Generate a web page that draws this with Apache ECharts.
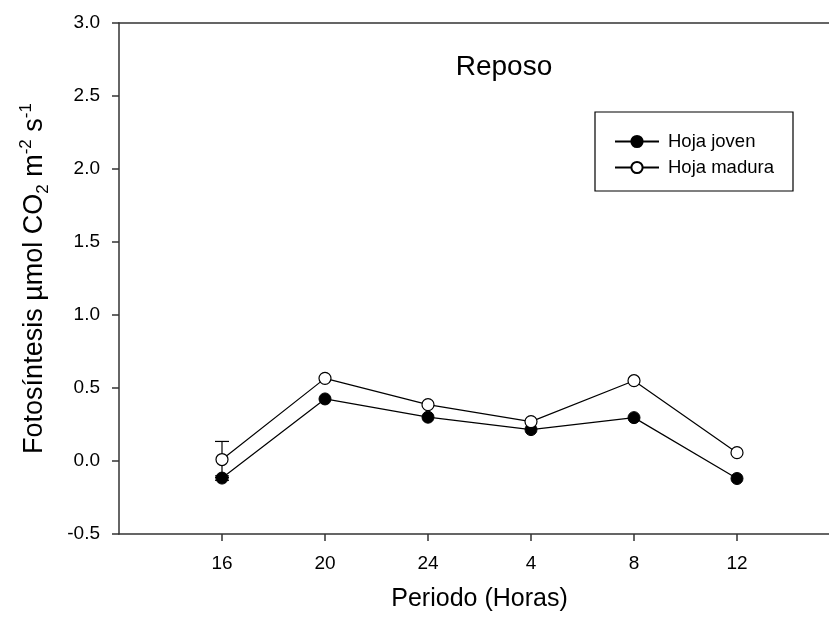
<!DOCTYPE html>
<html>
<head>
<meta charset="utf-8">
<script src="https://cdn.jsdelivr.net/npm/echarts@6/dist/echarts.min.js"></script>
<style>
  html, body { margin: 0; padding: 0; background: #fff; }
  #chart { width: 829px; height: 619px; }
</style>
</head>
<body>
<div id="chart"></div>
<script>
// data
const hours = ['16', '20', '24', '4', '8', '12'];
const hojaJoven = [-0.117, 0.425, 0.30, 0.215, 0.297, -0.12];
const hojaMadura = [0.01, 0.566, 0.386, 0.27, 0.55, 0.057];
const errJoven = [0.015, 0, 0, 0, 0, 0];
const errMadura = [0.124, 0, 0, 0, 0, 0];

const font = '"Liberation Sans", Arial, sans-serif';
// empty slots at both ends so the points sit one step in from the axes
const xCats = [''].concat(hours, ['']);

function pairs(vals) {
  return vals.map((v, i) => [i + 1, v]);
}
function errData(vals, errs) {
  const out = [];
  vals.forEach((v, i) => {
    if (errs[i] > 0) out.push([i + 1, v - errs[i], v + errs[i]]);
  });
  return out;
}

function renderErr(params, api) {
  const x = api.value(0);
  const lo = api.coord([x, api.value(1)]);
  const hi = api.coord([x, api.value(2)]);
  const w = 7;
  const st = { stroke: '#000', lineWidth: 1.2 };
  return {
    type: 'group',
    children: [
      { type: 'line', shape: { x1: hi[0], y1: hi[1], x2: lo[0], y2: lo[1] }, style: st },
      { type: 'line', shape: { x1: hi[0] - w, y1: hi[1], x2: hi[0] + w, y2: hi[1] }, style: st },
      { type: 'line', shape: { x1: lo[0] - w, y1: lo[1], x2: lo[0] + w, y2: lo[1] }, style: st }
    ]
  };
}

const chart = echarts.init(document.getElementById('chart'));
const option = {
  backgroundColor: '#fff',
  animation: false,
  title: {
    text: 'Reposo',
    left: 499,
    top: 48,
    textAlign: 'center',
    textStyle: { fontFamily: font, fontSize: 28, fontWeight: 'normal', color: '#000' }
  },
  grid: { left: 119, top: 23, right: -11, bottom: 85, outerBoundsMode: 'none' },
  legend: {
    orient: 'vertical',
    left: 609,
    top: 127,
    itemWidth: 44,
    itemHeight: 14,
    itemGap: 7,
    textStyle: { fontFamily: font, fontSize: 18.5, color: '#000', padding: [0, 0, 0, 4] },
    data: ['Hoja joven', 'Hoja madura']
  },
  graphic: [{
    type: 'rect',
    shape: { x: 595, y: 112, width: 198, height: 79 },
    style: { fill: 'none', stroke: '#000', lineWidth: 1.2 },
    z: 10
  }],
  xAxis: [{
    type: 'category',
    data: xCats,
    boundaryGap: false,
    name: 'Periodo (Horas)',
    nameLocation: 'middle',
    nameGap: 53,
    nameMoveOverlap: false,
    nameTextStyle: { fontFamily: font, fontSize: 25, color: '#000' },
    axisLine: { onZero: false, lineStyle: { color: '#333', width: 1.5 } },
    axisTick: {
      length: 7,
      inside: false,
      interval: (idx, val) => val !== '',
      lineStyle: { color: '#333', width: 1.5 }
    },
    axisLabel: {
      interval: 0,
      margin: 20,
      fontFamily: font,
      fontSize: 19,
      color: '#000'
    },
    splitLine: { show: false }
  }, {
    type: 'category',
    data: xCats,
    boundaryGap: false,
    position: 'top',
    axisLine: { onZero: false, lineStyle: { color: '#333', width: 1.5 } },
    axisTick: { show: false },
    axisLabel: { show: false },
    splitLine: { show: false }
  }],
  yAxis: {
    type: 'value',
    min: -0.5,
    max: 3.0,
    interval: 0.5,
    name: 'Fotosíntesis µmol CO{sub|2} m{sup|-2} s{sup|-1}',
    nameLocation: 'middle',
    nameRotate: 90,
    nameGap: 67,
    nameMoveOverlap: false,
    nameTextStyle: {
      fontFamily: font,
      fontSize: 27,
      color: '#000',
      lineHeight: 34,
      rich: {
        sub: { fontFamily: font, fontSize: 17, color: '#000', verticalAlign: 'bottom', lineHeight: 17 },
        sup: { fontFamily: font, fontSize: 17, color: '#000', verticalAlign: 'top', lineHeight: 17 }
      }
    },
    axisLine: { show: true, onZero: false, lineStyle: { color: '#333', width: 1.5 } },
    axisTick: { show: true, length: 7, lineStyle: { color: '#333', width: 1.5 } },
    axisLabel: {
      margin: 19,
      fontFamily: font,
      fontSize: 19,
      color: '#000',
      formatter: v => v.toFixed(1)
    },
    splitLine: { show: false }
  },
  series: [
    {
      type: 'custom',
      name: 'err-madura',
      renderItem: renderErr,
      data: errData(hojaMadura, errMadura),
      z: 1,
      silent: true
    },
    {
      type: 'custom',
      name: 'err-joven',
      renderItem: renderErr,
      data: errData(hojaJoven, errJoven),
      z: 1,
      silent: true
    },
    {
      name: 'Hoja joven',
      type: 'line',
      data: pairs(hojaJoven),
      symbol: 'circle',
      symbolSize: 12,
      lineStyle: { color: '#000', width: 1.2 },
      itemStyle: { color: '#000', borderColor: '#000', borderWidth: 1 },
      z: 3
    },
    {
      name: 'Hoja madura',
      type: 'line',
      data: pairs(hojaMadura),
      symbol: 'circle',
      symbolSize: 12,
      showAllSymbol: true,
      lineStyle: { color: '#000', width: 1.2 },
      itemStyle: { color: '#fff', borderColor: '#000', borderWidth: 1.2 },
      z: 3
    }
  ]
};
chart.setOption(option);
</script>
</body>
</html>
